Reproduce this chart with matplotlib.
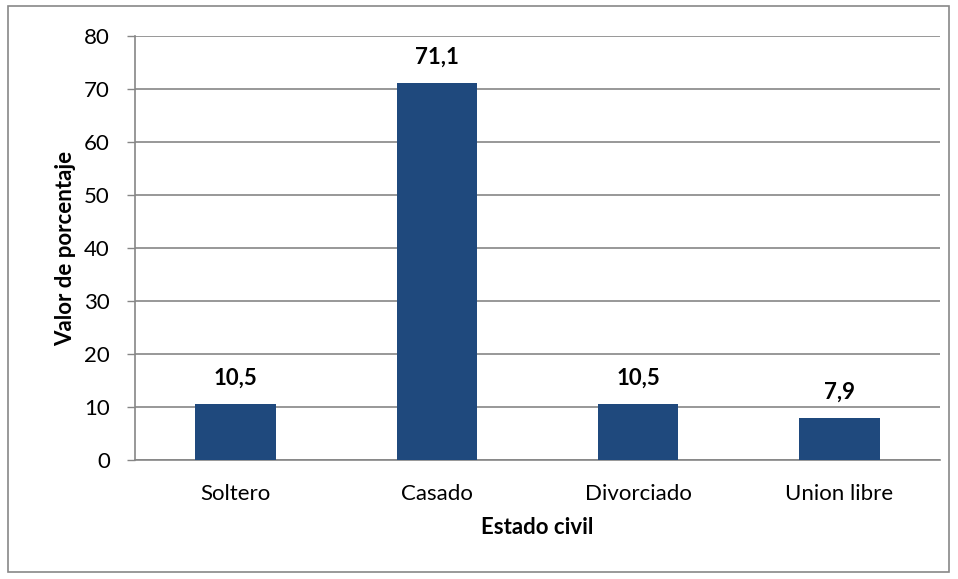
import matplotlib

matplotlib.use("Agg", force=True)
import matplotlib.pyplot as plt
from matplotlib.patches import Rectangle
import numpy as np

CATEGORIES = ["Soltero", "Casado", "Divorciado", "Union libre"]
PERCENTAGES = [10.5, 71.1, 10.5, 7.9]
Y_TICKS = [0, 10, 20, 30, 40, 50, 60, 70, 80]

BAR_COLOR = "#1F497D"
GRID_COLOR = "#868686"

plt.rcParams["font.family"] = ["Lato", "DejaVu Sans"]

fig = plt.figure(figsize=(9.58, 5.79), dpi=100)
ax = fig.add_axes([135 / 958, 1 - 460 / 579, (940 - 135) / 958, (460 - 36) / 579])

# outer frame around the chart area
fig.patches.append(
    Rectangle((8 / 958, 1 - 572 / 579), (949 - 8) / 958, (572 - 6) / 579,
              transform=fig.transFigure, fill=False, edgecolor="#888888", linewidth=1.2)
)

x = np.arange(len(CATEGORIES))
bars = ax.bar(x, PERCENTAGES, width=0.4, color=BAR_COLOR, zorder=3)

for bar, value in zip(bars, PERCENTAGES):
    ax.annotate(
        f"{value:.1f}".replace(".", ","),
        (bar.get_x() + bar.get_width() / 2, bar.get_height()),
        xytext=(0, 11), textcoords="offset points",
        ha="center", va="bottom", fontsize=16, fontweight="bold",
    )

ax.set_xlim(-0.5, len(CATEGORIES) - 0.5)
ax.set_ylim(0, 80)
ax.set_yticks(Y_TICKS)
ax.set_xticks(x, CATEGORIES)
ax.tick_params(axis="y", length=6, width=1, color=GRID_COLOR, labelsize=16, pad=12)
ax.tick_params(axis="x", length=0, labelsize=16, pad=17)
ax.yaxis.grid(True, color=GRID_COLOR, linewidth=1.2, zorder=0)
ax.set_axisbelow(True)

for side in ("top", "right"):
    ax.spines[side].set_visible(False)
for side in ("left", "bottom"):
    ax.spines[side].set_color(GRID_COLOR)
    ax.spines[side].set_linewidth(1.2)

ax.set_ylabel("Valor de porcentaje", fontsize=16, fontweight="bold", labelpad=6)
ax.set_xlabel("Estado civil", fontsize=16, fontweight="bold", labelpad=10)

fig.savefig("out.png", dpi=100)
